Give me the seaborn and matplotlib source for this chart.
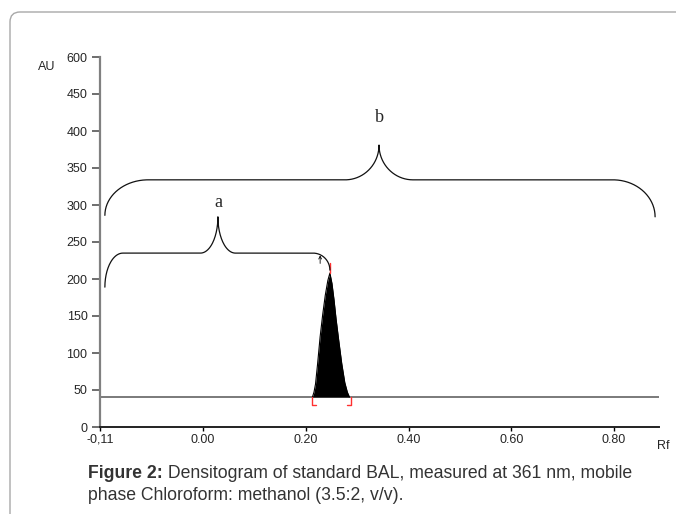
import numpy as np
import seaborn as sns
import matplotlib.pyplot as plt
from matplotlib.patches import FancyBboxPatch
from matplotlib.transforms import IdentityTransform

# peak profile (Rf, AU)
peak_rf = [0.213, 0.216, 0.219, 0.223, 0.228, 0.233, 0.238, 0.243, 0.247,
           0.251, 0.255, 0.259, 0.264, 0.270, 0.276, 0.281, 0.285]
peak_au = [40.5, 47, 58, 85, 122, 152, 178, 198, 208,
           194, 172, 146, 118, 86, 60, 47, 40.5]
baseline_au = 40.5
integration_rf = [0.212, 0.288]

# braces: left end, tip, right end (Rf) and heights (AU)
brace_a_rf = [-0.191, 0.029, 0.247]
brace_a_au = [189, 235, 284, 212]      # left end, flat, tip, right end
brace_b_rf = [-0.191, 0.3426, 0.880]
brace_b_au = [286, 334, 381, 284]

yticks = [0, 50, 100, 150, 200, 250, 300, 350, 400, 450, 500]
ytick_labels = ["0", "50", "100", "150", "200", "250", "300", "350", "400", "450", "600"]
xticks = [-0.2005, 0.0, 0.2, 0.4, 0.6, 0.8]
xtick_labels = ["-0,11", "0.00", "0.20", "0.40", "0.60", "0.80"]


def brace(rf, au, we, wt, we_r, n=40):
    x0, xt, x1 = rf
    y0, yf, yt, y1 = au
    t = np.linspace(0, np.pi / 2, n)
    xs = [x0 + we - we * np.cos(t)]
    ys = [y0 + (yf - y0) * np.sin(t)]
    xs.append(xt - wt + wt * np.sin(t))
    ys.append(yt - (yt - yf) * np.cos(t))
    xs.append(xt + wt - wt * np.cos(t))
    ys.append(yt - (yt - yf) * np.sin(t))
    xs.append(x1 - we_r + we_r * np.sin(t))
    ys.append(y1 + (yf - y1) * np.cos(t))
    return np.concatenate(xs), np.concatenate(ys)


sns.set_style("white")
plt.rcParams["font.family"] = ["Liberation Sans", "DejaVu Sans"]

fig = plt.figure(figsize=(6.76, 5.14), dpi=100)
ax = fig.add_axes([100 / 676, 1 - 427 / 514, 559 / 676, 370 / 514])

# baseline
ax.axhline(baseline_au, color="#7a7a7a", lw=1.4, zorder=1)

# peak
sns.lineplot(x=peak_rf, y=peak_au, color="black", lw=0.8, sort=False,
             estimator=None, ax=ax)
ax.fill_between(peak_rf, baseline_au, peak_au, color="black", lw=0)

# integration marks
red = "#ff3030"
lo, hi = integration_rf
foot = 29.5
ax.plot([lo + 0.007, lo, lo], [foot, foot, baseline_au], color=red, lw=1)
ax.plot([hi - 0.007, hi, hi], [foot, foot, baseline_au], color=red, lw=1)
ax.plot([peak_rf[8], peak_rf[8]], [peak_au[8], peak_au[8] + 14], color=red, lw=1)
ax.annotate("", xy=(0.228, 232), xytext=(0.228, 221),
            arrowprops=dict(arrowstyle="->", lw=0.6, color="black",
                            shrinkA=0, shrinkB=0, mutation_scale=5))

# braces
bx, by = brace(brace_a_rf, brace_a_au, 0.035, 0.034, 0.033)
sns.lineplot(x=bx, y=by, sort=False, estimator=None, color="#111111", lw=0.9, ax=ax)
bx, by = brace(brace_b_rf, brace_b_au, 0.084, 0.066, 0.082)
sns.lineplot(x=bx, y=by, sort=False, estimator=None, color="#111111", lw=0.9, ax=ax)

ax.text(brace_a_rf[1], 303, "a", ha="center", va="center", fontsize=13,
        family="Liberation Serif")
ax.text(brace_b_rf[1], 418, "b", ha="center", va="center", fontsize=13,
        family="Liberation Serif")

ax.set_xlim(-0.2005, 0.8876)
ax.set_ylim(0, 500)
ax.set_yticks(yticks)
ax.set_yticklabels(ytick_labels)
ax.set_xticks(xticks)
ax.set_xticklabels(xtick_labels)
ax.tick_params(axis="y", direction="out", length=6, width=1.2, color="#555555",
               labelsize=9, pad=3, left=True)
ax.tick_params(axis="x", direction="out", length=3, width=1, color="black",
               labelsize=9, pad=2, bottom=True)
for side in ["top", "right"]:
    ax.spines[side].set_visible(False)
ax.spines["left"].set_color("#808080")
ax.spines["left"].set_linewidth(1.6)
ax.spines["bottom"].set_color("#222222")
ax.spines["bottom"].set_linewidth(1.4)

fig.text(38 / 676, 1 - 67 / 514, "AU", fontsize=9, ha="left", va="center")
fig.text(663 / 676, 1 - 446 / 514, "Rf", fontsize=9, ha="center", va="center")

# caption
cap_y1 = 1 - 474 / 514
cap_y2 = 1 - 496 / 514
t1 = fig.text(88 / 676, cap_y1, "Figure 2:", fontsize=12.7, fontweight="bold",
              color="#333333", va="center")
fig.canvas.draw()
w = t1.get_window_extent(fig.canvas.get_renderer()).width
fig.text((88 + w) / 676, cap_y1,
         " Densitogram of standard BAL, measured at 361 nm, mobile",
         fontsize=12.7, color="#333333", va="center")
fig.text(88 / 676, cap_y2, "phase Chloroform: methanol (3.5:2, v/v).",
         fontsize=12.7, color="#333333", va="center")

# frame
frame = FancyBboxPatch((10, -30), 720, 514 - 12 + 30,
                       boxstyle="round,pad=0,rounding_size=10",
                       transform=IdentityTransform(), fill=False,
                       edgecolor="#a8a8a8", lw=1)
fig.add_artist(frame)

fig.savefig("out.png", dpi=100)
